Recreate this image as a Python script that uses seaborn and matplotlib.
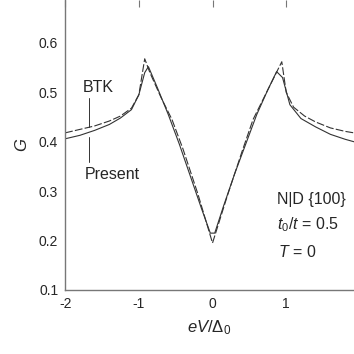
import matplotlib
matplotlib.use("Agg")
import matplotlib.pyplot as plt
import seaborn as sns
import pandas as pd

# BTK curve (dashed)
btk_x = [-2.0, -1.8, -1.6, -1.4, -1.25, -1.1, -1.0, -0.92, -0.85, -0.7, -0.55, -0.4, -0.2,
         0.0, 0.2, 0.4, 0.55, 0.7, 0.85, 0.94, 1.0, 1.1, 1.25, 1.4, 1.6, 1.8, 1.92]
btk_g = [0.418, 0.425, 0.432, 0.442, 0.452, 0.468, 0.495, 0.568, 0.540, 0.49, 0.445, 0.385, 0.295,
         0.195, 0.29, 0.38, 0.445, 0.49, 0.535, 0.562, 0.50, 0.47, 0.452, 0.44, 0.428, 0.421, 0.418]

# present theory (solid)
pres_x = [-2.0, -1.8, -1.6, -1.4, -1.25, -1.1, -1.0, -0.92, -0.87, -0.75, -0.6, -0.45, -0.3, -0.15, -0.03,
          0.03, 0.15, 0.3, 0.45, 0.6, 0.75, 0.87, 0.95, 1.05, 1.2, 1.4, 1.6, 1.8, 1.92]
pres_g = [0.406, 0.413, 0.423, 0.435, 0.448, 0.465, 0.495, 0.54, 0.552, 0.51, 0.455, 0.395, 0.33, 0.265, 0.215,
          0.215, 0.27, 0.335, 0.395, 0.455, 0.505, 0.542, 0.53, 0.475, 0.447, 0.43, 0.415, 0.405, 0.400]

x_ticks = [-2, -1, 0, 1]
y_ticks = [0.1, 0.2, 0.3, 0.4, 0.5, 0.6]

sns.set_style("white")
plt.rcParams['font.family'] = ['Liberation Sans', 'DejaVu Sans']
plt.rcParams['mathtext.fontset'] = 'custom'
plt.rcParams['mathtext.it'] = 'Liberation Sans:italic'
plt.rcParams['mathtext.rm'] = 'Liberation Sans'

fig = plt.figure(figsize=(3.54, 3.54), dpi=100)
ax = fig.add_axes([0.184, 0.181, 0.816, 0.819])

line_col = '#333333'
sns.lineplot(data=pd.DataFrame({'x': btk_x, 'g': btk_g}), x='x', y='g', ax=ax,
             color=line_col, lw=0.8, sort=False)
ax.lines[-1].set_dashes((7, 2))
sns.lineplot(data=pd.DataFrame({'x': pres_x, 'g': pres_g}), x='x', y='g', ax=ax,
             color=line_col, lw=0.8, sort=False)

ax.set_xlim(-2, 1.92)
ax.set_ylim(0.1, 0.687)
ax.set_xticks(x_ticks)
ax.set_xticklabels([str(v) for v in x_ticks])
ax.set_yticks(y_ticks)
ax.set_yticklabels([f"{v:.1f}" for v in y_ticks])

for s in ['top', 'right']:
    ax.spines[s].set_visible(False)
for s in ['left', 'bottom']:
    ax.spines[s].set_color('#777777')
    ax.spines[s].set_linewidth(1.0)
ax.tick_params(direction='in', length=5, width=0.8, color='#777777',
               labelsize=10, top=True, pad=5)

ax.set_xlabel(r'$eV/\Delta_0$', fontsize=12, labelpad=5)
ax.set_ylabel('G', fontsize=12, style='italic', labelpad=7)

# curve labels with leader lines
ax.text(-1.55, 0.51, 'BTK', fontsize=11.5, ha='center', va='center')
ax.plot([-1.68, -1.68], [0.489, 0.429], color=line_col, lw=0.7)
ax.text(-1.36, 0.333, 'Present', fontsize=11.5, ha='center', va='center')
ax.plot([-1.67, -1.67], [0.36, 0.41], color=line_col, lw=0.7)

ax.text(0.87, 0.283, 'N|D {100}', fontsize=11.5, ha='left', va='center')
ax.text(0.87, 0.232, r'$t_0/t$ = 0.5', fontsize=11.5, ha='left', va='center')
ax.text(0.89, 0.177, r'$T$ = 0', fontsize=11.5, ha='left', va='center')

fig.savefig('out.png', dpi=100)
